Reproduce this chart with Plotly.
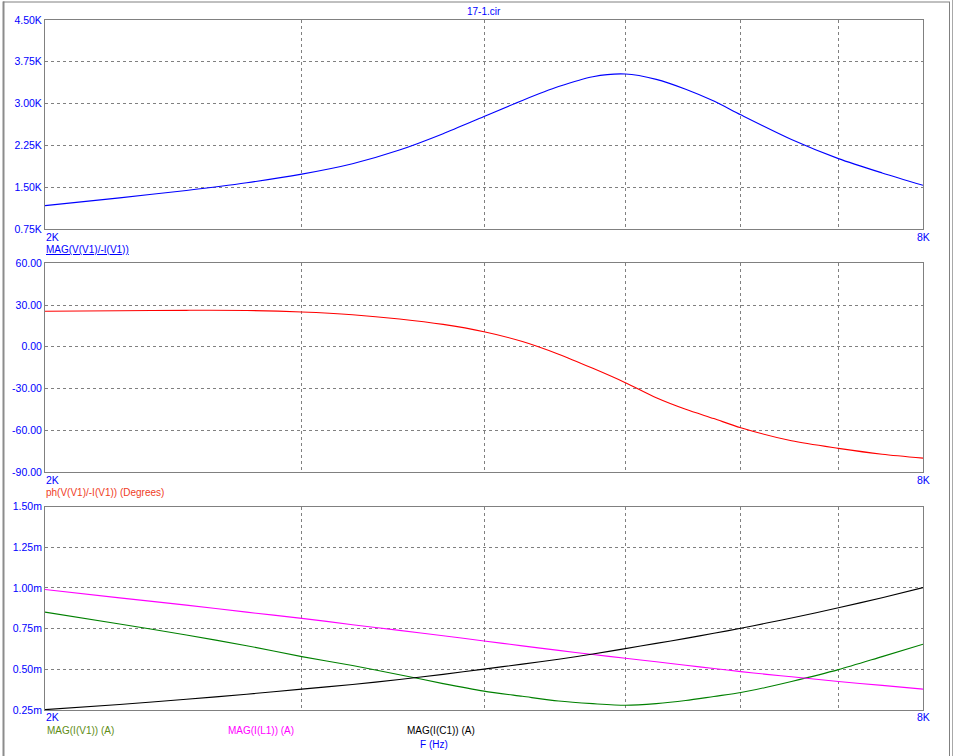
import math
import plotly.graph_objects as go

# ---------------- data ----------------
freq_z = [2000, 2250, 2500, 2750, 3000, 3250, 3500, 3750, 4000, 4250, 4500,
          4750, 5000, 5250, 5500, 5750, 6000, 6500, 7000, 7500, 8000]
mag_z = [1169, 1309, 1442, 1580, 1735, 1921, 2166, 2459, 2768, 3057, 3305,
         3483, 3531, 3435, 3258, 3045, 2798, 2356, 2013, 1756, 1535]
phase_z = [25.5, 25.9, 26.2, 26.1, 25.0, 23.05, 20.0, 16.1, 10.8, 3.8, -5.3,
           -15.5, -25.8, -36.6, -44.9, -51.6, -58.2, -67.6, -73.0, -77.2, -80.0]

freq_i = [2000, 2250, 2500, 2750, 3000, 3250, 3500, 3750, 4000, 4250, 4500,
          4750, 5000, 5250, 5500, 5750, 6000, 6250, 6500, 7000, 7500, 8000]
i_v1 = [0.851, 0.778, 0.711, 0.645, 0.578, 0.523, 0.467, 0.412, 0.366, 0.334, 0.305,
        0.289, 0.279, 0.289, 0.308, 0.333, 0.357, 0.390, 0.425, 0.498, 0.578, 0.654]
i_l1 = [0.990, 0.939, 0.894, 0.851, 0.813, 0.774, 0.739, 0.706, 0.674, 0.644, 0.616,
        0.591, 0.568, 0.546, 0.525, 0.505, 0.486, 0.469, 0.454, 0.425, 0.401, 0.378]
i_c1 = [0.252, 0.284, 0.316, 0.347, 0.378, 0.407, 0.437, 0.469, 0.501, 0.532, 0.562,
        0.594, 0.627, 0.659, 0.690, 0.721, 0.752, 0.784, 0.815, 0.878, 0.940, 1.002]

x_grid = [3000, 4000, 5000, 6000, 7000]
y1_ticks = [750, 1500, 2250, 3000, 3750, 4500]
y1_text = ["0.75K", "1.50K", "2.25K", "3.00K", "3.75K", "4.50K"]
y2_ticks = [-90, -60, -30, 0, 30, 60]
y2_text = ["-90.00", "-60.00", "-30.00", "0.00", "30.00", "60.00"]
y3_ticks = [0.25, 0.5, 0.75, 1.0, 1.25, 1.5]
y3_text = ["0.25m", "0.50m", "0.75m", "1.00m", "1.25m", "1.50m"]

# ---------------- layout geometry ----------------
W, H = 956, 756
ML, MR, MT, MB = 45, 33, 20, 46
PW = W - ML - MR
PH = H - MT - MB


def px(x):
    return (x - ML) / PW


def py(y):
    return (H - MB - y) / PH


FONT = "Liberation Sans, Arial, sans-serif"
GRID = "#808080"
BLUE = "#0000FF"
LINE = dict(width=1.1, shape="spline", smoothing=0.8)

fig = go.Figure()
fig.add_trace(go.Scatter(x=freq_z, y=mag_z, mode="lines", line=dict(LINE, color="#0000FF"),
                         xaxis="x", yaxis="y", hoverinfo="skip"))
fig.add_trace(go.Scatter(x=freq_z, y=phase_z, mode="lines", line=dict(LINE, color="#FF0000"),
                         xaxis="x2", yaxis="y2", hoverinfo="skip"))
fig.add_trace(go.Scatter(x=freq_i, y=i_v1, mode="lines", line=dict(LINE, color="#008000"),
                         xaxis="x3", yaxis="y3", hoverinfo="skip"))
fig.add_trace(go.Scatter(x=freq_i, y=i_l1, mode="lines", line=dict(LINE, color="#FF00FF"),
                         xaxis="x3", yaxis="y3", hoverinfo="skip"))
fig.add_trace(go.Scatter(x=freq_i, y=i_c1, mode="lines", line=dict(LINE, color="#000000"),
                         xaxis="x3", yaxis="y3", hoverinfo="skip"))

xr = [math.log10(2000), math.log10(8000)]
xcommon = dict(type="log", range=xr, tickvals=x_grid, showticklabels=False, ticks="",
               showgrid=True, gridcolor=GRID, griddash="3px,3px", gridwidth=1,
               showline=True, linecolor=GRID, linewidth=1, mirror=True, zeroline=False,
               fixedrange=True)
ycommon = dict(ticks="", showgrid=True, gridcolor=GRID, griddash="3px,3px", gridwidth=1,
               showline=True, linecolor=GRID, linewidth=1, mirror=True, zeroline=False,
               tickfont=dict(family=FONT, size=10.5, color=BLUE), fixedrange=True)

dom1 = [py(229), py(20)]
dom2 = [py(472), py(263.3)]
dom3 = [py(710), py(506.5)]

fig.update_layout(
    width=W, height=H, autosize=False,
    margin=dict(l=ML, r=MR, t=MT, b=MB, pad=0),
    paper_bgcolor="white", plot_bgcolor="white", showlegend=False,
    xaxis=dict(xcommon, domain=[0, 1], anchor="y"),
    xaxis2=dict(xcommon, domain=[0, 1], anchor="y2"),
    xaxis3=dict(xcommon, domain=[0, 1], anchor="y3"),
    yaxis=dict(ycommon, domain=dom1, anchor="x", range=[750, 4500], tickvals=y1_ticks, ticktext=y1_text),
    yaxis2=dict(ycommon, domain=dom2, anchor="x2", range=[-90, 60], tickvals=y2_ticks, ticktext=y2_text),
    yaxis3=dict(ycommon, domain=dom3, anchor="x3", range=[0.25, 1.5], tickvals=y3_ticks, ticktext=y3_text),
)


def label(text, x, y, color, xanchor="left", size=10):
    fig.add_annotation(text=text, x=px(x), y=py(y), xref="paper", yref="paper",
                       xanchor=xanchor, yanchor="middle", showarrow=False,
                       font=dict(family=FONT, size=size, color=color))


label("17-1.cir", 484, 12, BLUE, xanchor="center")
for yy in (236.5, 480, 717):
    label("2K", 44, yy, BLUE, size=10.5)
    label("8K", 923.5, yy, BLUE, xanchor="center", size=10.5)
label("<u>MAG(V(V1)/-I(V1))</u>", 44, 249, BLUE)
label("ph(V(V1)/-I(V1)) (Degrees)", 44, 492.5, "#F03C1E")
label("MAG(I(V1)) (A)", 44.5, 730.5, "#5E8C14")
label("MAG(I(L1)) (A)", 225.5, 730.5, "#FF00FF")
label("MAG(I(C1)) (A)", 405, 730.5, "#000000")
label("F (Hz)", 418, 744, BLUE)

# window frame
def frame_line(x0, y0, x1, y1, color, width):
    fig.add_shape(type="line", xref="paper", yref="paper", x0=px(x0), y0=py(y0), x1=px(x1), y1=py(y1),
                  line=dict(color=color, width=width), layer="above")

frame_line(3.5, 1.5, 3.5, 756, "#8C8C8C", 2)
frame_line(3, 2, 950, 2, "#808080", 1)
frame_line(949.5, 2, 949.5, 756, "#808080", 1)
frame_line(952.5, 0, 952.5, 756, "#A8A8A8", 1)

fig.write_html(
    "out.html",
    config={"displayModeBar": False, "staticPlot": True},
    post_script="document.body.style.margin='0';document.documentElement.style.overflow='hidden';document.body.style.overflow='hidden';",
)
